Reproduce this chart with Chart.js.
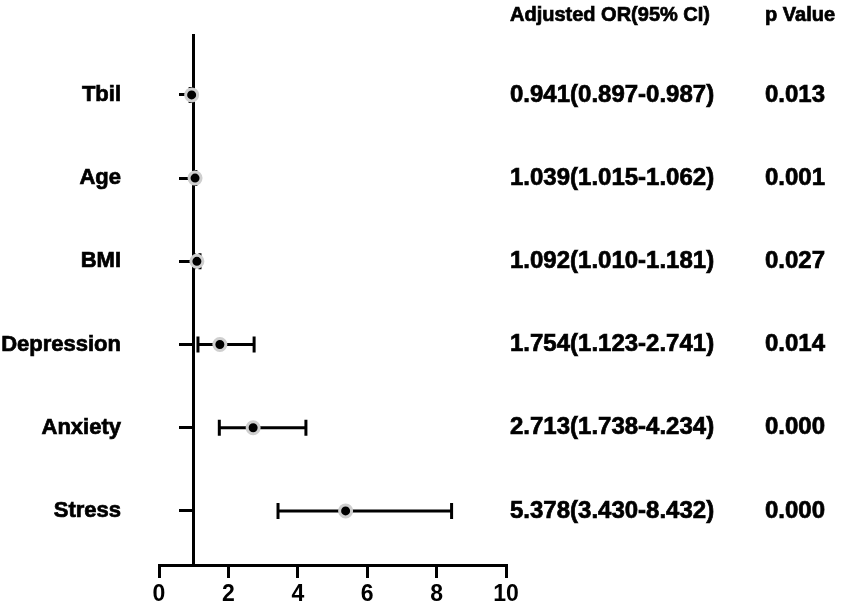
<!DOCTYPE html>
<html>
<head>
<meta charset="utf-8">
<script src="https://cdn.jsdelivr.net/npm/chart.js@4.4.1/dist/chart.umd.min.js"></script>
<style>
  html, body { margin: 0; padding: 0; background: #fff; }
  #wrap { width: 854px; height: 612px; }
</style>
</head>
<body>
<div id="wrap"><canvas id="forestChart"></canvas></div>
<script>
// Forest plot data (adjusted odds ratios)
const factors = ['Tbil', 'Age', 'BMI', 'Depression', 'Anxiety', 'Stress'];
const oddsRatio = [0.941, 1.039, 1.092, 1.754, 2.713, 5.378];
const ciLow = [0.897, 1.015, 1.010, 1.123, 1.738, 3.430];
const ciHigh = [0.987, 1.062, 1.181, 2.741, 4.234, 8.432];
const orText = ['0.941(0.897-0.987)', '1.039(1.015-1.062)', '1.092(1.010-1.181)',
                '1.754(1.123-2.741)', '2.713(1.738-4.234)', '5.378(3.430-8.432)'];
const pText = ['0.013', '0.001', '0.027', '0.014', '0.000', '0.000'];
const xTicks = [0, 2, 4, 6, 8, 10];

const FONT = '"Liberation Sans", Arial, sans-serif';

// Error bars with end caps, drawn under the points
const errorBars = {
    id: 'errorBars',
    beforeDatasetsDraw(chart) {
        const { ctx, scales: { x, y } } = chart;
        ctx.save();
        ctx.strokeStyle = '#000';
        ctx.lineWidth = 3;
        factors.forEach((f, i) => {
            const yy = y.getPixelForValue(i + 1);
            const x1 = x.getPixelForValue(ciLow[i]);
            const x2 = x.getPixelForValue(ciHigh[i]);
            ctx.beginPath();
            ctx.moveTo(x1, yy); ctx.lineTo(x2, yy);
            ctx.moveTo(x1, yy - 8); ctx.lineTo(x1, yy + 8);
            ctx.moveTo(x2, yy - 8); ctx.lineTo(x2, yy + 8);
            ctx.stroke();
        });
        ctx.restore();
    }
};

// bold text, thickened a little with a thin outline
function boldText(ctx, str, x, y) {
    ctx.fillText(str, x, y);
    ctx.strokeText(str, x, y);
}

// Row labels on the left and the OR / p value table on the right
const tableText = {
    id: 'tableText',
    afterDraw(chart) {
        const { ctx, scales: { y } } = chart;
        ctx.save();
        ctx.fillStyle = '#000';
        ctx.strokeStyle = '#000';
        ctx.lineWidth = 0.7;
        ctx.textBaseline = 'middle';

        ctx.font = 'bold 20px ' + FONT;
        ctx.textAlign = 'left';
        boldText(ctx, 'Adjusted OR(95% CI)', 510, 15);
        boldText(ctx, 'p Value', 765, 15);

        factors.forEach((f, i) => {
            const yy = y.getPixelForValue(i + 1);
            ctx.font = 'bold 22px ' + FONT;
            ctx.textAlign = 'right';
            boldText(ctx, f, 121, yy);
            ctx.font = 'bold 24px ' + FONT;
            ctx.textAlign = 'left';
            boldText(ctx, orText[i], 510, yy);
            boldText(ctx, pText[i], 765, yy);
        });
        ctx.restore();
    }
};

const ctx = document.getElementById('forestChart').getContext('2d');
new Chart(ctx, {
    type: 'scatter',
    data: {
        datasets: [{
            data: oddsRatio.map((v, i) => ({ x: v, y: i + 1 })),
            backgroundColor: '#000',
            borderColor: '#cfcfcf',
            borderWidth: 3,
            pointRadius: 6,
            pointHoverRadius: 6
        }]
    },
    options: {
        responsive: true,
        maintainAspectRatio: false,
        animation: false,
        events: [],
        layout: { padding: { left: 159, right: 348, top: 35, bottom: 0 } },
        scales: {
            x: {
                type: 'linear',
                min: 0,
                max: 10,
                afterBuildTicks: axis => { axis.ticks = xTicks.map(v => ({ value: v })); },
                afterFit: axis => { axis.height = 47; },
                border: { color: '#000', width: 3 },
                grid: { drawOnChartArea: false, color: '#000', tickLength: 13, lineWidth: 3 },
                ticks: { color: '#000', padding: 3, font: { family: FONT, size: 23, weight: 'bold' } }
            },
            y: {
                type: 'linear',
                reverse: true,
                min: 0.28,
                max: 6.65,
                position: { x: 1 },
                afterBuildTicks: axis => { axis.ticks = factors.map((f, i) => ({ value: i + 1 })); },
                afterFit: axis => { axis.width = 0; },
                border: { color: '#000', width: 3 },
                grid: { drawOnChartArea: false, color: '#000', tickLength: 13, lineWidth: 3 },
                ticks: { display: false }
            }
        },
        plugins: {
            legend: { display: false },
            tooltip: { enabled: false }
        }
    },
    plugins: [errorBars, tableText]
});
</script>
</body>
</html>
